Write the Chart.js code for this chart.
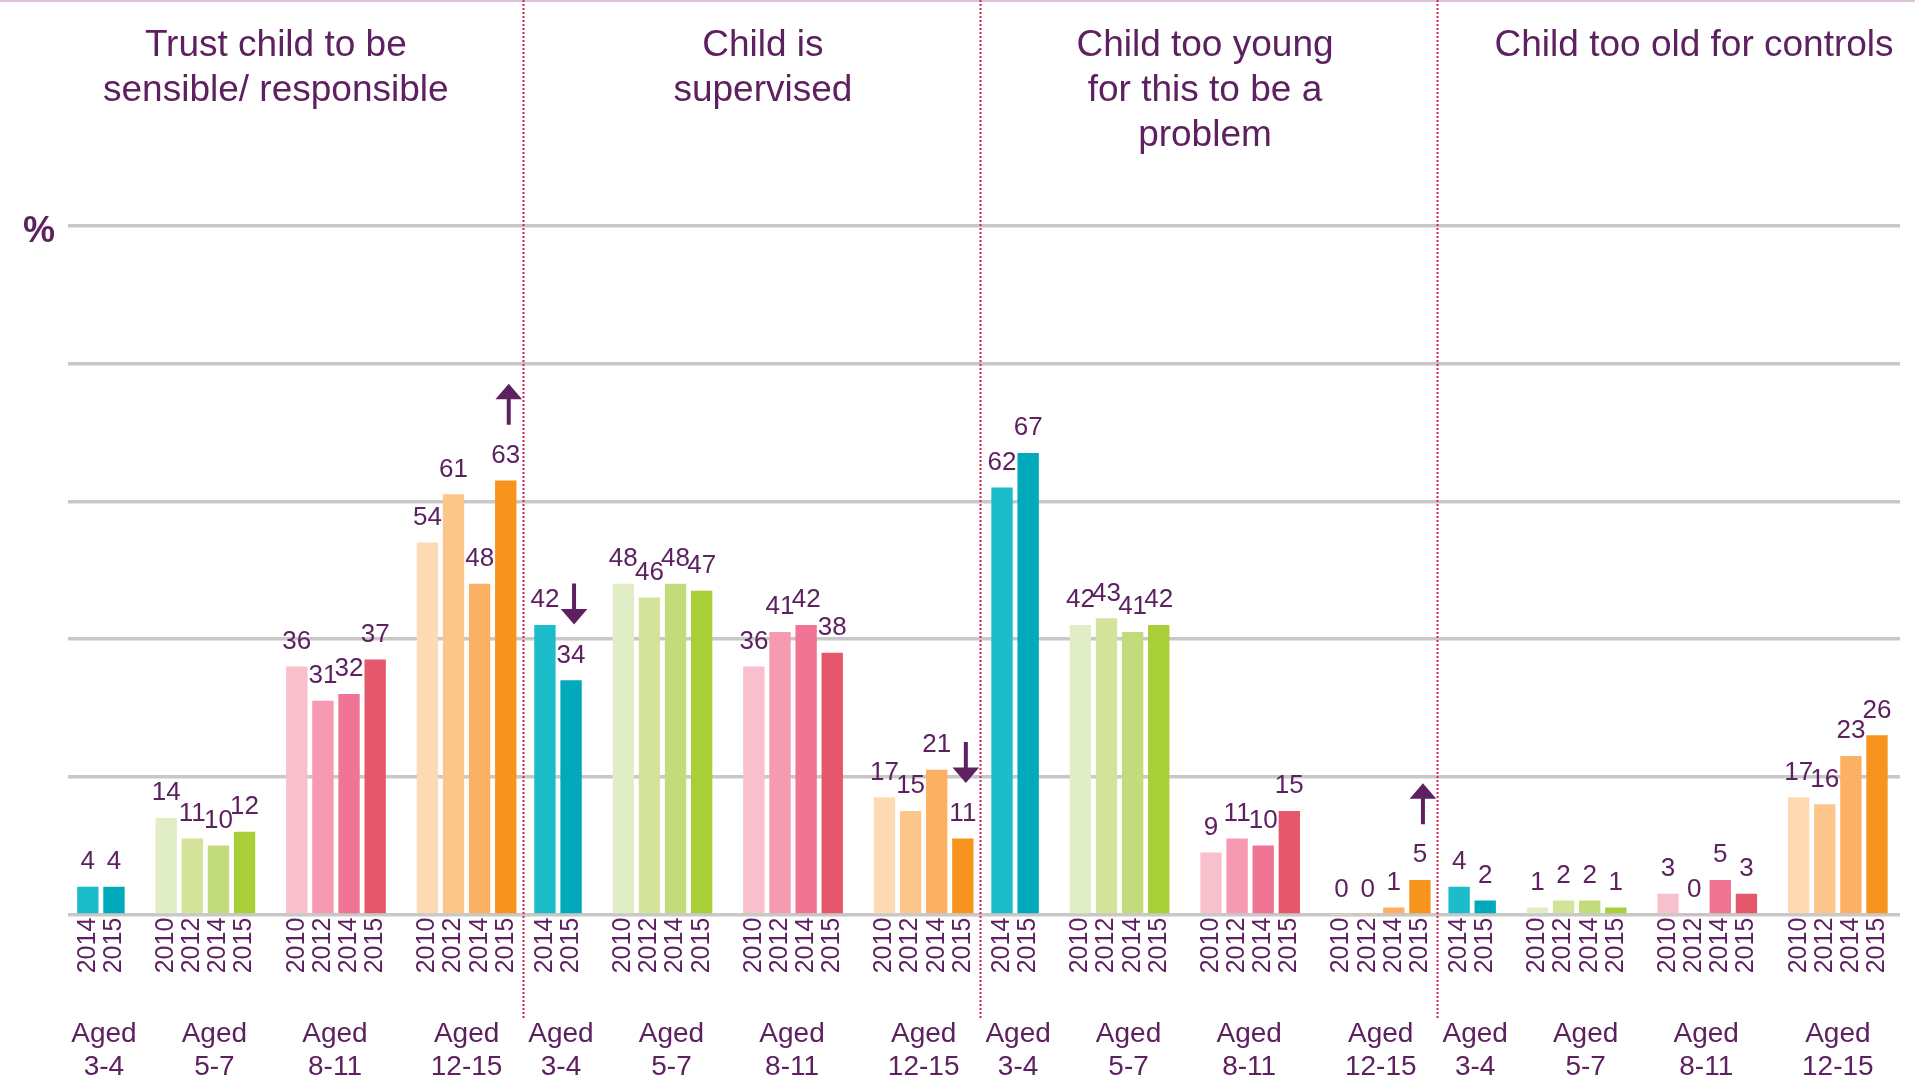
<!DOCTYPE html>
<html>
<head>
<meta charset="utf-8">
<title>Reasons for not having controls</title>
<script src="https://cdn.jsdelivr.net/npm/chart.js@4.4.0/dist/chart.umd.min.js"></script>
<style>
  html, body { margin: 0; padding: 0; background: #fff; }
  #wrap { width: 1915px; height: 1081px; position: relative; }
</style>
</head>
<body>
<div id="wrap"><canvas id="mycanvas"></canvas></div>
<script>
// one panel per reason, each split by age group and survey year
var panelTitles = [
  ['Trust child to be', 'sensible/ responsible'],
  ['Child is', 'supervised'],
  ['Child too young', 'for this to be a', 'problem'],
  ['Child too old for controls']
];
var ageGroups = [['Aged', '3-4'], ['Aged', '5-7'], ['Aged', '8-11'], ['Aged', '12-15']];
var groupYears = [
  ['2014', '2015'],
  ['2010', '2012', '2014', '2015'],
  ['2010', '2012', '2014', '2015'],
  ['2010', '2012', '2014', '2015']
];

var trustValues      = [[4, 4], [14, 11, 10, 12], [36, 31, 32, 37], [54, 61, 48, 63]];
var supervisedValues = [[42, 34], [48, 46, 48, 47], [36, 41, 42, 38], [17, 15, 21, 11]];
var tooYoungValues   = [[62, 67], [42, 43, 41, 42], [9, 11, 10, 15], [0, 0, 1, 5]];
var tooOldValues     = [[4, 2], [1, 2, 2, 1], [3, 0, 5, 3], [17, 16, 23, 26]];

// significant change in 2015 (arrow above the 2015 bar)
var trustChange      = [null, null, null, 'up'];
var supervisedChange = ['down', null, null, 'down'];
var tooYoungChange   = [null, null, null, 'up'];
var tooOldChange     = [null, null, null, null];

var groupColours = [
  ['#1bbdcb', '#00aabb'],
  ['#e1edc4', '#d3e49a', '#c3dc7b', '#a9cf38'],
  ['#f8bfcc', '#f59ab0', '#f07595', '#e5576b'],
  ['#fddab3', '#fcc589', '#fcb063', '#f7941d']
];

var panelValues = [trustValues, supervisedValues, tooYoungValues, tooOldValues];
var panelChange = [trustChange, supervisedChange, tooYoungChange, tooOldChange];

var purple = '#5e2160';
var fontFamily = '"Liberation Sans", Arial, sans-serif';
var panelStep = 17.5;          // slots per panel on the x scale
var titleShift = [-21, 9, -6, 26];
var groupShift = [3, 9, -1, 0];

// slot where each age group starts inside a panel (one empty slot between groups)
var groupStart = [];
var s = 0;
for (var g = 0; g < groupYears.length; g++) {
  groupStart.push(s);
  s += groupYears[g].length + 1;
}

var points = [], colours = [], yearLabels = [], changes = [];
for (var p = 0; p < panelValues.length; p++) {
  for (var g = 0; g < groupYears.length; g++) {
    for (var k = 0; k < groupYears[g].length; k++) {
      points.push({ x: p * panelStep + groupStart[g] + k, y: panelValues[p][g][k] });
      colours.push(groupColours[g][k]);
      yearLabels.push(groupYears[g][k]);
      changes.push(k == groupYears[g].length - 1 ? panelChange[p][g] : null);
    }
  }
}

function drawArrow(c, x, top, dir) {
  var len = 41, head = 15.5, half = 13.3, shaft = 4;
  var y0 = top, y1 = top + len;
  c.beginPath();
  if (dir == 'up') {
    c.moveTo(x, y0);
    c.lineTo(x + half, y0 + head);
    c.lineTo(x + shaft / 2, y0 + head);
    c.lineTo(x + shaft / 2, y1);
    c.lineTo(x - shaft / 2, y1);
    c.lineTo(x - shaft / 2, y0 + head);
    c.lineTo(x - half, y0 + head);
  } else {
    c.moveTo(x, y1);
    c.lineTo(x + half, y1 - head);
    c.lineTo(x + shaft / 2, y1 - head);
    c.lineTo(x + shaft / 2, y0);
    c.lineTo(x - shaft / 2, y0);
    c.lineTo(x - shaft / 2, y1 - head);
    c.lineTo(x - half, y1 - head);
  }
  c.closePath();
  c.fill();
}

var extras = {
  id: 'extras',
  afterDraw: function (chart) {
    var c = chart.ctx;
    var xs = chart.scales.x;
    var bars = chart.getDatasetMeta(0).data;
    c.save();

    c.fillStyle = '#dcc3dc';
    c.fillRect(0, 0, chart.width, 2);

    c.fillStyle = purple;
    c.textAlign = 'center';
    c.textBaseline = 'middle';
    c.font = 'bold 36px ' + fontFamily;
    c.fillText('%', 39, 232);

    // panel titles
    c.textBaseline = 'alphabetic';
    c.font = '37px ' + fontFamily;
    for (var p = 0; p < panelTitles.length; p++) {
      var tx = xs.getPixelForValue(p * panelStep + 8) + titleShift[p];
      for (var i = 0; i < panelTitles[p].length; i++) {
        c.fillText(panelTitles[p][i], tx, 56 + i * 45);
      }
    }

    // dotted separators between panels
    c.strokeStyle = '#de1f57';
    c.lineWidth = 2;
    c.setLineDash([2, 2]);
    for (var p = 1; p < panelTitles.length; p++) {
      var sx = Math.round(xs.getPixelForValue(p * panelStep - 0.85)) + 0.5;
      c.beginPath();
      c.moveTo(sx, 0);
      c.lineTo(sx, 1018);
      c.stroke();
    }
    c.setLineDash([]);

    // values and change arrows
    c.font = '26px ' + fontFamily;
    for (var i = 0; i < bars.length; i++) {
      var b = bars[i];
      c.fillText(String(points[i].y), b.x, b.y - 18);
      if (changes[i]) drawArrow(c, b.x + 3, b.y - 97, changes[i]);
    }

    // age group labels
    c.font = '28px ' + fontFamily;
    for (var p = 0; p < panelTitles.length; p++) {
      for (var g = 0; g < ageGroups.length; g++) {
        var mid = p * panelStep + groupStart[g] + (groupYears[g].length - 1) / 2;
        var gx = xs.getPixelForValue(mid) + groupShift[g];
        c.fillText(ageGroups[g][0], gx, 1042);
        c.fillText(ageGroups[g][1], gx, 1075);
      }
    }
    c.restore();
  }
};

Chart.defaults.font.family = fontFamily;

var ctx = document.getElementById('mycanvas');
var chart = new Chart(ctx, {
  type: 'bar',
  data: {
    datasets: [{
      data: points,
      backgroundColor: colours,
      borderWidth: 0,
      barThickness: 20.7
    }]
  },
  options: {
    responsive: true,
    maintainAspectRatio: false,
    animation: false,
    layout: { padding: { left: 68, right: 15, top: 226, bottom: 0 } },
    plugins: { legend: { display: false }, tooltip: { enabled: false } },
    scales: {
      x: {
        type: 'linear',
        offset: false,
        min: -0.76,
        max: 69.38,
        grid: { display: false, drawTicks: false },
        border: { display: false },
        afterBuildTicks: function (axis) {
          axis.ticks = points.map(function (pt) { return { value: pt.x }; });
        },
        afterFit: function (axis) {
          axis.height = 166.3;
          axis.paddingLeft = 0;
          axis.paddingRight = 0;
        },
        ticks: {
          autoSkip: false,
          minRotation: 90,
          maxRotation: 90,
          padding: 3,
          color: purple,
          font: { size: 25 },
          callback: function (value, index) { return yearLabels[index]; }
        }
      },
      y: {
        min: 0,
        max: 100,
        ticks: { display: false, stepSize: 20 },
        grid: { color: '#c8c8c8', lineWidth: 3.5, drawTicks: false },
        border: { display: false }
      }
    }
  },
  plugins: [extras]
});
</script>
</body>
</html>
